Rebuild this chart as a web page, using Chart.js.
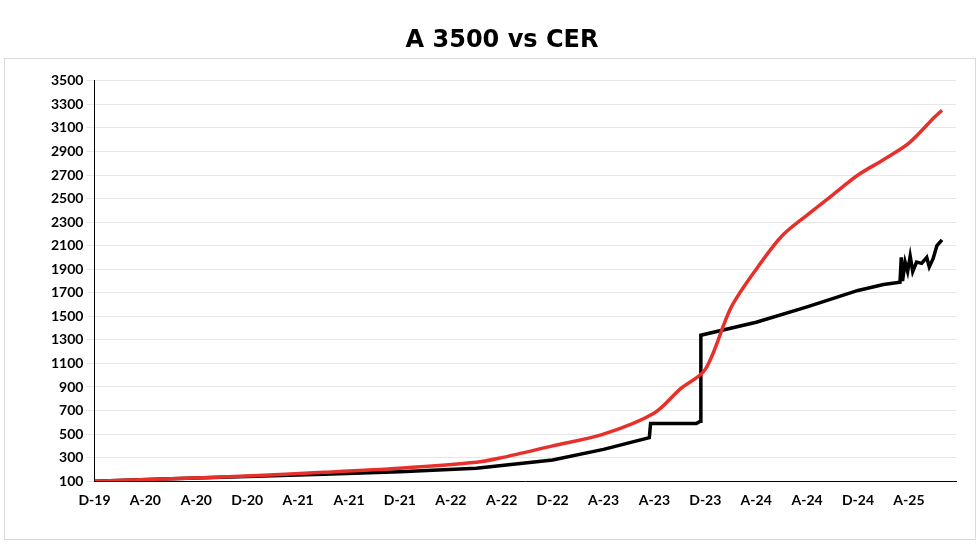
<!DOCTYPE html>
<html>
<head>
<meta charset="utf-8">
<script src="https://cdn.jsdelivr.net/npm/chart.js@4"></script>
<style>
  body { margin: 0; background: #fff; }
  #wrap { position: relative; width: 980px; height: 548px; }
  #frame { position: absolute; left: 4px; top: 58px; width: 970px; height: 480px; border: 1px solid #d9d9d9; }
</style>
</head>
<body>
<div id="wrap">
  <div id="frame"></div>
  <canvas id="chart" width="980" height="548"></canvas>
</div>
<script>
// month index, 0 = Dec-19
const tickLabels = ['D-19', 'A-20', 'A-20', 'D-20', 'A-21', 'A-21', 'D-21', 'A-22', 'A-22', 'D-22', 'A-23', 'A-23', 'D-23', 'A-24', 'A-24', 'D-24', 'A-25']

const cerX = [0, 6, 12, 18, 24, 30, 32, 36, 40, 44, 46, 48, 50, 52, 54, 56, 58, 60, 62, 64, 66, 66.6]
const cerY = [100, 120, 145, 175, 210, 260, 300, 400, 500, 680, 880, 1050, 1570, 1900, 2180, 2360, 2530, 2700, 2830, 2970, 3190, 3250]

const a3500X = [0, 6, 12, 18, 24, 30, 36, 40, 43.6, 43.7, 47.3, 47.6, 47.65, 52, 56, 60, 62, 63.3, 63.4, 63.5, 63.7, 63.9, 64.1, 64.3, 64.6, 65, 65.4, 65.6, 65.9, 66.2, 66.6]
const a3500Y = [100, 120, 140, 160, 180, 210, 280, 370, 470, 590, 590, 610, 1340, 1450, 1580, 1720, 1770, 1790, 2000, 1800, 1960, 1880, 2010, 1880, 1960, 1950, 2000, 1920, 1990, 2100, 2150]

const toPoints = (xs, ys) => xs.map((x, i) => ({ x: x, y: ys[i] }))

new Chart(document.getElementById('chart').getContext('2d'), {
  type: 'line',
  data: {
    datasets: [
      {
        label: 'CER',
        data: toPoints(cerX, cerY),
        borderColor: '#e8302a',
        borderWidth: 3.5,
        pointRadius: 0,
        tension: 0.3,
      },
      {
        label: 'A 3500',
        data: toPoints(a3500X, a3500Y),
        borderColor: '#000',
        borderWidth: 3.5,
        pointRadius: 0,
        tension: 0,
      },
    ],
  },
  options: {
    responsive: false,
    animation: false,
    layout: { padding: { left: 48, right: 24, top: 0, bottom: 36 } },
    plugins: {
      legend: { display: false },
      title: {
        display: true,
        text: 'A 3500 vs CER',
        color: '#000',
        font: { family: 'DejaVu Sans', size: 24, weight: 'bold' },
        padding: { top: 26, bottom: 26 },
      },
    },
    scales: {
      x: {
        type: 'linear',
        min: 0,
        max: 67.7,
        afterBuildTicks: (axis) => {
          axis.ticks = tickLabels.map((l, i) => ({ value: i * 4 }))
        },
        ticks: {
          autoSkip: false,
          maxRotation: 0,
          color: '#000',
          font: { family: 'Lato', size: 14, weight: 'bold' },
          callback: (value) => tickLabels[value / 4],
        },
        grid: { display: false },
        border: { color: '#000', width: 1 },
      },
      y: {
        min: 100,
        max: 3500,
        ticks: {
          stepSize: 200,
          color: '#000',
          font: { family: 'Lato', size: 14, weight: 'bold' },
          callback: (value) => String(value),
        },
        grid: { color: '#e6e6e6' },
        border: { color: '#000', width: 1 },
      },
    },
  },
})
</script>
</body>
</html>
